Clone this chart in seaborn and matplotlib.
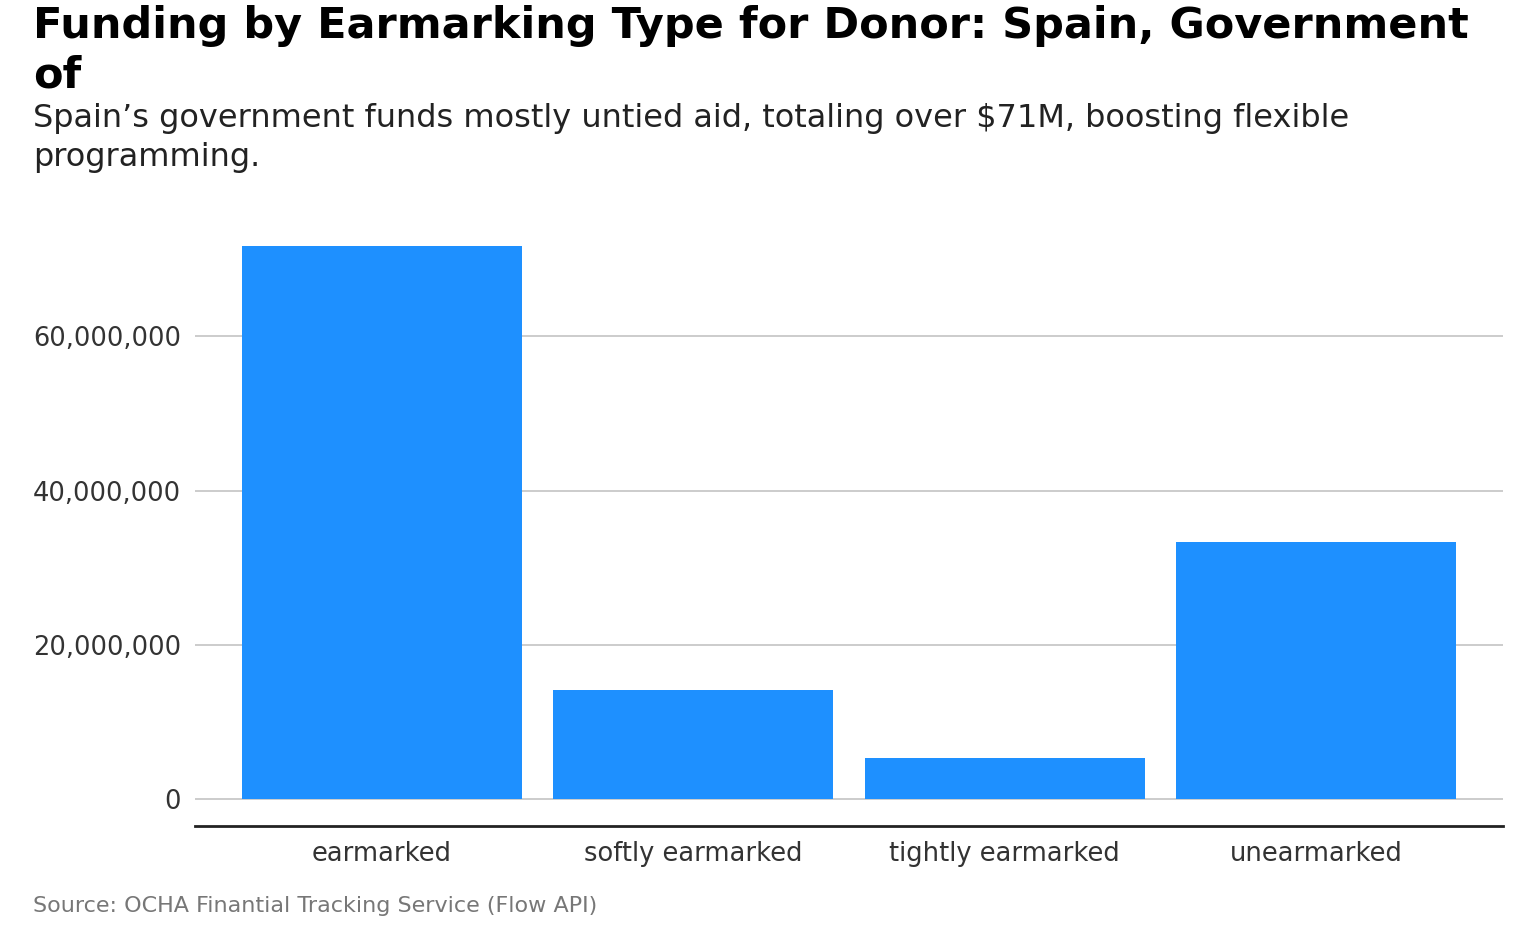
import matplotlib
matplotlib.use("Agg")
import matplotlib.pyplot as plt
import matplotlib.ticker as mticker
import seaborn as sns
import pandas as pd

categories = ["earmarked", "softly earmarked", "tightly earmarked", "unearmarked"]
funding = [71_700_000, 14_150_000, 5_300_000, 33_350_000]
yticks = [0, 20_000_000, 40_000_000, 60_000_000]

title_lines = ["Funding by Earmarking Type for Donor: Spain, Government", "of"]
subtitle_lines = ["Spain\u2019s government funds mostly untied aid, totaling over $71M, boosting flexible",
                  "programming."]
source = "Source: OCHA Finantial Tracking Service (Flow API)"

sns.set_theme(style="white")
plt.rcParams["font.family"] = ["DejaVu Sans"]

df = pd.DataFrame({"type": categories, "funding": funding})

W, H = 1536, 949
fig = plt.figure(figsize=(W / 100, H / 100), dpi=100)
ax = fig.add_axes([195 / W, 1 - 826 / H, (1503 - 195) / W, (826 - 213) / H])

sns.barplot(data=df, x="type", y="funding", color="#1E90FF", saturation=1,
            width=0.9, linewidth=0, edgecolor="none", ax=ax, zorder=3)

ax.set_xlim(-0.6, 3.6)
ax.set_ylim(-3_500_000, 76_000_000)
ax.set_yticks(yticks)
ax.yaxis.set_major_formatter(mticker.FuncFormatter(lambda v, p: f"{int(v):,}"))
ax.grid(axis="y", color="#c8c8c8", linewidth=1.3, zorder=0)
ax.grid(axis="x", visible=False)
ax.set_xlabel("")
ax.set_ylabel("")
for s in ["top", "right", "left"]:
    ax.spines[s].set_visible(False)
ax.spines["bottom"].set_color("#222222")
ax.spines["bottom"].set_linewidth(2)
ax.tick_params(axis="both", length=0, labelsize=18.5, colors="#333333")
ax.tick_params(axis="y", pad=10)
ax.tick_params(axis="x", pad=11)

for line, base in zip(title_lines, [38, 88]):
    fig.text(33 / W, 1 - base / H, line, fontsize=31, fontweight="bold",
             color="black", va="baseline", ha="left")
for line, base in zip(subtitle_lines, [127, 166]):
    fig.text(33 / W, 1 - base / H, line, fontsize=23, color="#222222",
             va="baseline", ha="left")
fig.text(33 / W, 1 - 912 / H, source, fontsize=16, color="#777777",
         va="baseline", ha="left")

fig.savefig("out.png", dpi=100, facecolor="white")
